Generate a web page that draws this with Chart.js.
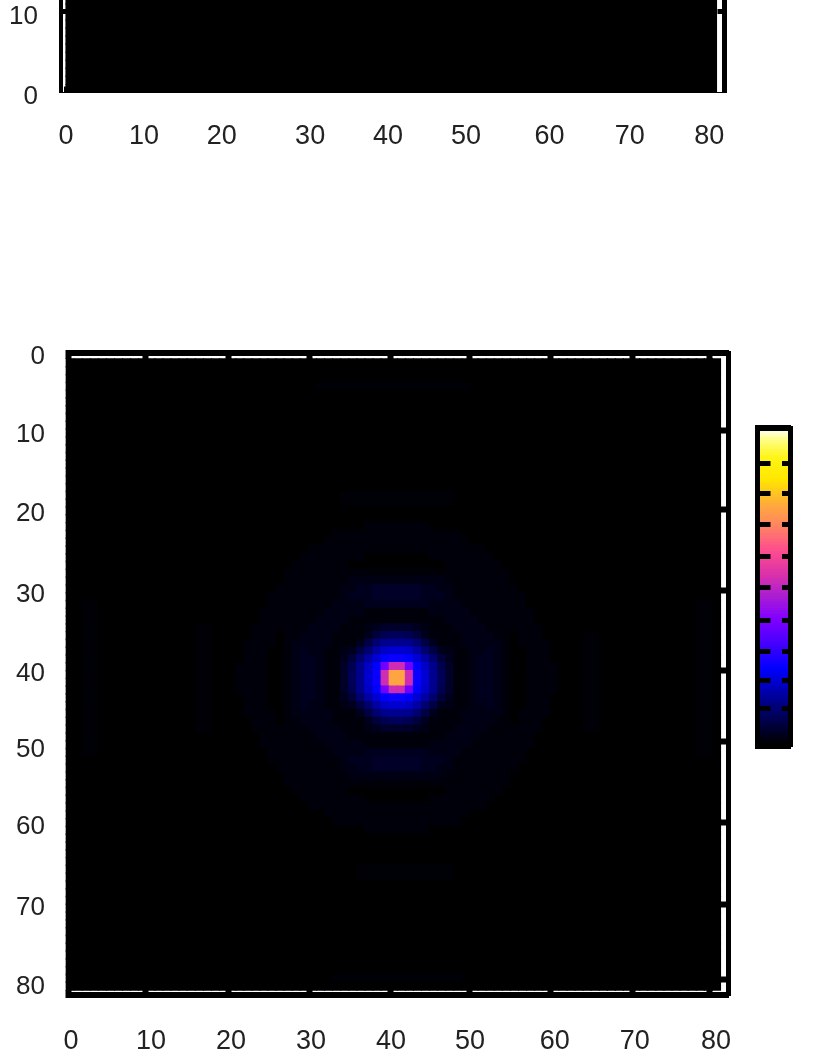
<!DOCTYPE html>
<html>
<head>
<meta charset="utf-8">
<script src="https://cdn.jsdelivr.net/npm/chart.js@4"></script>
<style>
html,body{margin:0;padding:0;background:#fff;width:817px;height:1058px;overflow:hidden}
canvas{position:absolute;display:block;filter:blur(0.45px)}
</style>
</head>
<body>
<canvas id="top" width="817" height="230" style="left:0;top:-60px;width:817px;height:230px"></canvas>
<canvas id="bottom" width="817" height="758" style="left:0;top:300px;width:817px;height:758px"></canvas>
<canvas id="bar" width="70" height="345" style="left:740px;top:415px;width:70px;height:345px"></canvas>
<script>
// ---------- data ----------
const tickLabels = ['0','10','20','30','40','50','60','70','80'];
const gridSize = 81;
const topVisibleRows = 13;

// axis positions as read (the source image is slightly uneven)
const topXLabelAt    = [0, 9.7, 19.4, 30.4, 40.1, 49.8, 60.2, 70.2, 80.1];
const topXTickAt     = [0, 10, 20, 30, 40, 50, 60, 70, 80];
const topYLabelAt    = [-0.56, 9.38];
const topYTickAt     = [10];
const bottomXLabelAt = [0.62, 10.52, 20.42, 30.32, 40.22, 50, 60.5, 70.4, 80.45];
const bottomXTickAt  = [0.25, 9.9, 20.05, 30.14, 40.22, 49.88, 59.9, 70.05, 79.7];
const bottomYLabelAt = [-0.3, 9.72, 19.86, 30.33, 40.36, 50.12, 60.05, 70.4, 80.54];
const bottomYTickAt  = [9.24, 19.38, 29.78, 39.99, 49.04, 59.56, 70.03, 79.6];

// intensity (percent of the colour scale) for rows 21..60, cols 21..60 of the lower panel
const centreFirstRow = 21, centreFirstCol = 21;
const centreRows = [
[0,0,0,0,0,0,0,0,0,0,0,0,0,0,0,0,1,1,1,1,1,1,1,1,0,0,0,0,0,0,0,0,0,0,0,0,0,0,0,0],
[0,0,0,0,0,0,0,0,0,0,0,0,1,1,1,1,1,1,1,1,1,1,1,1,1,1,1,1,0,0,0,0,0,0,0,0,0,0,0,0],
[0,0,0,0,0,0,0,0,0,0,0,1,1,1,1,1,1,1,1,1,1,1,1,1,1,1,1,1,1,0,0,0,0,0,0,0,0,0,0,0],
[0,0,0,0,0,0,0,0,0,1,1,1,1,1,1,1,1,1,1,1,1,1,1,1,1,1,1,1,1,1,1,0,0,0,0,0,0,0,0,0],
[0,0,0,0,0,0,0,0,1,1,1,1,1,1,1,1,0,0,0,0,0,0,0,0,1,1,1,1,1,1,1,1,0,0,0,0,0,0,0,0],
[0,0,0,0,0,0,0,1,1,1,1,1,1,1,0,0,0,0,0,0,0,0,0,0,0,0,1,1,1,1,1,1,1,0,0,0,0,0,0,0],
[0,0,0,0,0,0,1,1,1,1,1,1,1,1,1,1,1,1,1,1,1,1,1,1,1,1,1,1,1,1,1,1,1,1,0,0,0,0,0,0],
[0,0,0,0,0,0,1,1,1,1,1,1,1,1,2,2,2,2,2,2,2,2,2,2,2,2,1,1,1,1,1,1,1,1,0,0,0,0,0,0],
[0,0,0,0,0,1,1,1,1,1,1,1,1,2,2,3,3,4,4,4,4,4,4,3,3,2,2,1,1,1,1,1,1,1,1,0,0,0,0,0],
[0,0,0,0,1,1,1,1,1,1,1,1,1,2,3,3,3,4,4,4,4,4,4,3,3,3,2,1,1,1,1,1,1,1,1,1,0,0,0,0],
[0,0,0,0,1,1,1,1,1,1,1,1,2,2,2,2,3,3,3,3,3,3,3,3,2,2,2,2,1,1,1,1,1,1,1,1,0,0,0,0],
[0,0,0,1,1,1,1,1,1,1,1,2,2,2,2,2,1,1,1,1,1,1,1,1,2,2,2,2,2,1,1,1,1,1,1,1,1,0,0,0],
[0,0,0,1,1,1,1,1,1,1,2,2,2,2,1,1,1,1,1,1,1,1,1,1,1,1,2,2,2,2,1,1,1,1,1,1,1,0,0,0],
[0,0,1,1,1,1,1,1,1,2,2,2,2,1,1,1,2,3,4,4,4,4,3,2,1,1,1,2,2,2,2,1,1,1,1,1,1,1,0,0],
[0,0,1,1,1,0,1,1,2,2,2,2,1,1,1,1,3,6,8,9,9,8,6,3,1,1,1,1,2,2,2,2,1,1,0,1,1,1,0,0],
[0,1,1,1,1,0,1,2,2,2,2,2,1,1,1,3,7,11,14,14,14,14,11,7,3,1,1,1,2,2,2,2,2,1,0,1,1,1,1,0],
[0,1,1,1,0,0,1,2,3,2,2,1,1,2,3,7,11,16,19,20,20,19,16,11,7,3,2,1,1,2,2,3,2,1,0,0,1,1,1,0],
[0,1,1,1,0,0,1,2,3,3,2,1,1,3,6,11,16,20,24,25,25,24,20,16,11,6,3,1,1,2,3,3,2,1,0,0,1,1,1,0],
[1,1,1,1,0,0,1,2,3,3,2,1,1,4,8,14,19,24,38,52,52,38,24,19,14,8,4,1,1,2,3,3,2,1,0,0,1,1,1,1],
[1,1,1,1,0,0,1,2,3,3,2,1,1,4,9,14,20,25,52,75,75,52,25,20,14,9,4,1,1,2,3,3,2,1,0,0,1,1,1,1],
[1,1,1,1,0,0,1,2,3,3,2,1,1,4,9,14,20,25,52,75,75,52,25,20,14,9,4,1,1,2,3,3,2,1,0,0,1,1,1,1],
[1,1,1,1,0,0,1,2,3,3,2,1,1,4,8,14,19,24,38,52,52,38,24,19,14,8,4,1,1,2,3,3,2,1,0,0,1,1,1,1],
[0,1,1,1,0,0,1,2,3,3,2,1,1,3,6,11,16,20,24,25,25,24,20,16,11,6,3,1,1,2,3,3,2,1,0,0,1,1,1,0],
[0,1,1,1,0,0,1,2,3,2,2,1,1,2,3,7,11,16,19,20,20,19,16,11,7,3,2,1,1,2,2,3,2,1,0,0,1,1,1,0],
[0,1,1,1,1,0,1,2,2,2,2,2,1,1,1,3,7,11,14,14,14,14,11,7,3,1,1,1,2,2,2,2,2,1,0,1,1,1,1,0],
[0,0,1,1,1,0,1,1,2,2,2,2,1,1,1,1,3,6,8,9,9,8,6,3,1,1,1,1,2,2,2,2,1,1,0,1,1,1,0,0],
[0,0,1,1,1,1,1,1,1,2,2,2,2,1,1,1,2,3,4,4,4,4,3,2,1,1,1,2,2,2,2,1,1,1,1,1,1,1,0,0],
[0,0,0,1,1,1,1,1,1,1,2,2,2,2,1,1,1,1,1,1,1,1,1,1,1,1,2,2,2,2,1,1,1,1,1,1,1,0,0,0],
[0,0,0,1,1,1,1,1,1,1,1,2,2,2,2,2,1,1,1,1,1,1,1,1,2,2,2,2,2,1,1,1,1,1,1,1,1,0,0,0],
[0,0,0,0,1,1,1,1,1,1,1,1,2,2,2,2,3,3,3,3,3,3,3,3,2,2,2,2,1,1,1,1,1,1,1,1,0,0,0,0],
[0,0,0,0,1,1,1,1,1,1,1,1,1,2,3,3,3,4,4,4,4,4,4,3,3,3,2,1,1,1,1,1,1,1,1,1,0,0,0,0],
[0,0,0,0,0,1,1,1,1,1,1,1,1,2,2,3,3,4,4,4,4,4,4,3,3,2,2,1,1,1,1,1,1,1,1,0,0,0,0,0],
[0,0,0,0,0,0,1,1,1,1,1,1,1,1,2,2,2,2,2,2,2,2,2,2,2,2,1,1,1,1,1,1,1,1,0,0,0,0,0,0],
[0,0,0,0,0,0,1,1,1,1,1,1,1,1,1,1,1,1,1,1,1,1,1,1,1,1,1,1,1,1,1,1,1,1,0,0,0,0,0,0],
[0,0,0,0,0,0,0,1,1,1,1,1,1,1,0,0,0,0,0,0,0,0,0,0,0,0,1,1,1,1,1,1,1,0,0,0,0,0,0,0],
[0,0,0,0,0,0,0,0,1,1,1,1,1,1,1,1,0,0,0,0,0,0,0,0,1,1,1,1,1,1,1,1,0,0,0,0,0,0,0,0],
[0,0,0,0,0,0,0,0,0,1,1,1,1,1,1,1,1,1,1,1,1,1,1,1,1,1,1,1,1,1,1,0,0,0,0,0,0,0,0,0],
[0,0,0,0,0,0,0,0,0,0,0,1,1,1,1,1,1,1,1,1,1,1,1,1,1,1,1,1,1,0,0,0,0,0,0,0,0,0,0,0],
[0,0,0,0,0,0,0,0,0,0,0,0,1,1,1,1,1,1,1,1,1,1,1,1,1,1,1,1,0,0,0,0,0,0,0,0,0,0,0,0],
[0,0,0,0,0,0,0,0,0,0,0,0,0,0,0,0,1,1,1,1,1,1,1,1,0,0,0,0,0,0,0,0,0,0,0,0,0,0,0,0]
];
// faint side lobes: [firstRow, lastRow, firstCol, lastCol, intensity]
const faintLobes = [
 [3,3,31,49,.7],[17,18,34,47,.7],[65,66,36,47,.7],[79,79,33,48,.7],
 [31,50,2,3,.7],[34,47,16,17,.7],[35,47,64,65,.7],[31,50,78,79,.7]
];

// colour scale: [position, r, g, b]
const paletteStops = [
 [0,0,0,0],[.09,0,0,90],[.165,0,0,170],[.24,0,0,255],[.32,70,0,255],[.40,130,0,255],
 [.47,170,30,210],[.54,220,50,170],[.62,255,80,140],[.69,255,130,100],[.76,255,170,60],
 [.84,255,230,0],[.91,255,245,20],[.97,255,255,140],[1,255,255,255]
];
const colorbarTickAt = [.898,.789,.668,.559,.438,.319,.211,.109];
const colorbarBands = 106;

// ---------- helpers ----------
function paletteColor(t){
  for(let i=1;i<paletteStops.length;i++){
    const a=paletteStops[i-1], b=paletteStops[i];
    if(t<=b[0]){
      const f=(t-a[0])/(b[0]-a[0]);
      return `rgb(${Math.round(a[1]+(b[1]-a[1])*f)},${Math.round(a[2]+(b[2]-a[2])*f)},${Math.round(a[3]+(b[3]-a[3])*f)})`;
    }
  }
  return '#fff';
}
const FAMILY="'Liberation Sans',Arial,sans-serif";
const XFONT={family:FAMILY,size:27}, YFONT={family:FAMILY,size:26};
const INK='#222';
const fixW=w=>s=>{s.width=w;};
const fixH=h=>s=>{s.height=h;};
const at=list=>s=>{s.ticks=list.map(v=>({value:v}));};

function tickAxis(position,range,list,border,len,tw,weight){
  const horiz=position==='top'||position==='bottom';
  return {type:'linear',position,min:range[0],max:range[1],reverse:range[2]||false,weight:weight||0,
    afterBuildTicks:at(list),afterFit:horiz?fixH(0):fixW(0),
    ticks:{display:false,autoSkip:false},
    border:{display:border>0,width:border,color:'#000',z:1},
    grid:{drawOnChartArea:false,drawTicks:list.length>0,tickLength:len,tickWidth:tw,tickColor:'#000',z:1}};
}
function labelAxis(position,range,list,labels,pad,size){
  const horiz=position==='bottom';
  return {type:'linear',position,min:range[0],max:range[1],reverse:range[2]||false,weight:1,
    afterBuildTicks:at(list),afterFit:horiz?fixH(size):fixW(size),
    ticks:{display:true,autoSkip:false,maxRotation:0,minRotation:0,padding:pad,font:horiz?XFONT:YFONT,color:INK,
      callback:(v,i)=>labels[i]},
    border:{display:false},grid:{display:false}};
}
function heatChart(id,points,scales,padding,clipLeft){
  return new Chart(document.getElementById(id),{
    type:'scatter',
    data:{datasets:[{data:points,xAxisID:'xTicks',yAxisID:'yTicks',pointStyle:'rect',pointRadius:6.5,
      pointBorderWidth:0,pointHoverRadius:6.5,clip:{left:clipLeft,top:0,right:0,bottom:0},
      pointBackgroundColor:c=>paletteColor((c.raw?c.raw.v:0)/100)}]},
    options:{responsive:false,animation:false,events:[],layout:{autoPadding:false,padding},
      plugins:{legend:{display:false},tooltip:{enabled:false}},scales}
  });
}

// ---------- upper panel ----------
const topPoints=[];
for(let r=0;r<topVisibleRows;r++)for(let c=0;c<gridSize;c++)topPoints.push({x:c+.5,y:r+.5,v:0});
const topX=[-0.623,82.0], topY=[0,12.73];
heatChart('top',topPoints,{
  xTicks:tickAxis('bottom',topX,topXTickAt,1,-6,5),
  x:labelAxis('bottom',topX,topXLabelAt,tickLabels,20,77.5),
  yTicks:tickAxis('left',topY,topYTickAt,4,-6,5),
  y:labelAxis('left',topY,topYLabelAt,['0','10'],15,61),
  yRight:tickAxis('right',topY,topYTickAt,5,-7,5)
},{left:0,right:92.5,top:50,bottom:0},0);

// ---------- lower panel ----------
const levels=[];
for(let r=0;r<gridSize;r++)levels.push(new Array(gridSize).fill(0));
faintLobes.forEach(([r0,r1,c0,c1,v])=>{for(let r=r0;r<=r1;r++)for(let c=c0;c<=c1;c++)levels[r][c]=v;});
centreRows.forEach((row,i)=>row.forEach((v,j)=>{levels[centreFirstRow+i][centreFirstCol+j]=v;}));
const bottomPoints=[];
levels.forEach((row,r)=>row.forEach((v,c)=>bottomPoints.push({x:c+.5,y:r+.5,v})));
const botX=[0.371,81.99], botY=[-0.77,81.64,true];
heatChart('bottom',bottomPoints,{
  xTicks:tickAxis('bottom',botX,bottomXTickAt,6,-5,6),
  x:labelAxis('bottom',botX,bottomXLabelAt,tickLabels,22,55),
  xTop:tickAxis('top',botX,bottomXTickAt,6,-6,6),
  yTicks:tickAxis('left',botY,[],1,0,0),
  y:labelAxis('left',botY,bottomYLabelAt,tickLabels,16,69),
  yRight:tickAxis('right',botY,bottomYTickAt,5,-8,6)
},{left:0,right:88.5,top:53,bottom:8},3.6);

// ---------- colour bar ----------
const colorbarLevels=[];
for(let i=0;i<colorbarBands;i++)colorbarLevels.push(1-i/(colorbarBands-1));
const barRange=[-0.0064,1.0096];
new Chart(document.getElementById('bar'),{
  type:'bar',
  data:{labels:colorbarLevels,datasets:[{data:colorbarLevels.map(()=>1),xAxisID:'xFill',yAxisID:'yFill',
    backgroundColor:colorbarLevels.map(paletteColor),borderWidth:0,barPercentage:1,categoryPercentage:1}]},
  options:{indexAxis:'y',responsive:false,animation:false,events:[],
    layout:{autoPadding:false,padding:{left:17.5,right:19.5,top:13,bottom:14}},
    plugins:{legend:{display:false},tooltip:{enabled:false}},
    scales:{
      xFill:{type:'linear',min:0,max:1,display:false},
      yFill:{type:'category',display:false},
      xBottom:tickAxis('bottom',[0,1],[],6,0,0),
      xTop:tickAxis('top',[0,1],[],6,0,0),
      yLeft:tickAxis('left',barRange,colorbarTickAt,5,-13,5),
      yRight:tickAxis('right',barRange,colorbarTickAt,5,-8.5,5)
    }}
});
</script>
</body>
</html>
